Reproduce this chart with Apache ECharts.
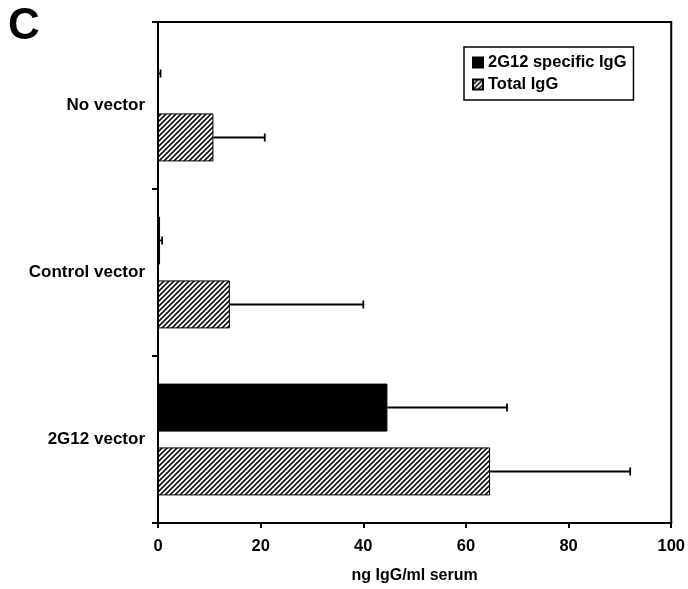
<!DOCTYPE html>
<html>
<head>
<meta charset="utf-8">
<script src="https://cdn.jsdelivr.net/npm/echarts@6/dist/echarts.min.js"></script>
<style>
html,body{margin:0;padding:0;background:#fff;}
#chart{width:688px;height:589px;}
</style>
</head>
<body>
<div id="chart"></div>
<script>
// ---- Data ----
const categories = ['No vector', 'Control vector', '2G12 vector'];
const seriesNames = ['2G12 specific IgG', 'Total IgG'];
const specificIgG = [0.1, 0.4, 44.7];
const specificSD = [0.4, 0.4, 23.3];
const totalIgG = [10.8, 14.0, 64.7];
const totalSD = [10.0, 26.0, 27.3];
const xTicks = [0, 20, 40, 60, 80, 100];

// ---- Hatch pattern ----
function makeHatch() {
  const s = 5;
  const c = document.createElement('canvas');
  c.width = s; c.height = s;
  const ctx = c.getContext('2d');
  ctx.fillStyle = '#fff';
  ctx.fillRect(0, 0, s, s);
  ctx.strokeStyle = '#111';
  ctx.lineWidth = 1.6;
  ctx.beginPath();
  ctx.moveTo(-1, s + 1); ctx.lineTo(s + 1, -1);
  ctx.moveTo(-1, 1); ctx.lineTo(1, -1);
  ctx.moveTo(s - 1, s + 1); ctx.lineTo(s + 1, s - 1);
  ctx.stroke();
  return c;
}
const hatch = { image: makeHatch(), repeat: 'repeat' };

const BAR_W = 48;
const HALF_OFF = 32; // center offset of each bar in group (px)

function errSeries(name, means, sds, sign) {
  return {
    type: 'custom',
    name: name + ' err',
    data: means.map((m, i) => [m, i, sds[i]]),
    encode: { x: 0, y: 1 },
    z: 1,
    silent: true,
    renderItem: function (params, api) {
      const m = api.value(0), ci = api.value(1), sd = api.value(2);
      const p0 = api.coord([m, ci]);
      const p1 = api.coord([m + sd, ci]);
      const y = p0[1] + sign * HALF_OFF;
      const st = { stroke: '#000', lineWidth: 1.8 };
      return {
        type: 'group',
        children: [
          { type: 'line', shape: { x1: p0[0], y1: y, x2: p1[0], y2: y }, style: st },
          { type: 'line', shape: { x1: p1[0], y1: y - 4, x2: p1[0], y2: y + 4 }, style: st }
        ]
      };
    }
  };
}

const chart = echarts.init(document.getElementById('chart'));
const font = 'Liberation Sans, Arial, sans-serif';
chart.setOption({
  animation: false,
  backgroundColor: '#fff',
  title: {
    text: 'C', left: 3, top: 0,
    textStyle: { fontFamily: font, fontSize: 44, fontWeight: 'bold', color: '#000' }
  },
  grid: {
    left: 158, right: 15, top: 22, bottom: 66,
    show: true, borderColor: '#000', borderWidth: 2, backgroundColor: 'transparent'
  },
  legend: {
    data: seriesNames,
    orient: 'vertical',
    left: 464, top: 47,
    padding: [7, 7, 7, 8],
    itemGap: 5,
    itemWidth: 10, itemHeight: 10,
    icon: 'rect',
    borderColor: '#000', borderWidth: 1.5,
    textStyle: { fontFamily: font, fontSize: 16.5, fontWeight: 'bold', color: '#000', padding: [0, 0, 0, 0] }
  },
  xAxis: {
    type: 'value', min: 0, max: 100, interval: 20,
    name: 'ng IgG/ml serum', nameLocation: 'middle', nameGap: 45,
    nameTextStyle: { fontFamily: font, fontSize: 16, fontWeight: 'bold', color: '#000' },
    axisLine: { show: true, lineStyle: { color: '#000', width: 2 } },
    axisTick: { show: true, length: 5, lineStyle: { color: '#000', width: 2 } },
    axisLabel: {
      fontFamily: font, fontSize: 16.5, fontWeight: 'bold', color: '#000', margin: 15,
      formatter: v => xTicks.indexOf(v) >= 0 ? String(v) : ''
    },
    splitLine: { show: false }
  },
  yAxis: {
    type: 'category', data: categories, inverse: true,
    axisLine: { show: true, lineStyle: { color: '#000', width: 2 } },
    axisTick: { show: true, length: 6, lineStyle: { color: '#000', width: 2 } },
    axisLabel: { fontFamily: font, fontSize: 17, fontWeight: 'bold', color: '#000', margin: 13 },
    splitLine: { show: false }
  },
  series: [
    {
      type: 'bar', name: seriesNames[0], data: specificIgG,
      barWidth: BAR_W, barGap: '33%',
      itemStyle: { color: '#000', borderColor: '#000', borderWidth: 1 }
    },
    {
      type: 'bar', name: seriesNames[1], data: totalIgG,
      barWidth: BAR_W, barGap: '33%',
      itemStyle: { color: hatch, borderColor: '#000', borderWidth: 1 }
    },
    errSeries(seriesNames[0], specificIgG, specificSD, -1),
    errSeries(seriesNames[1], totalIgG, totalSD, 1)
  ]
});
</script>
</body>
</html>
